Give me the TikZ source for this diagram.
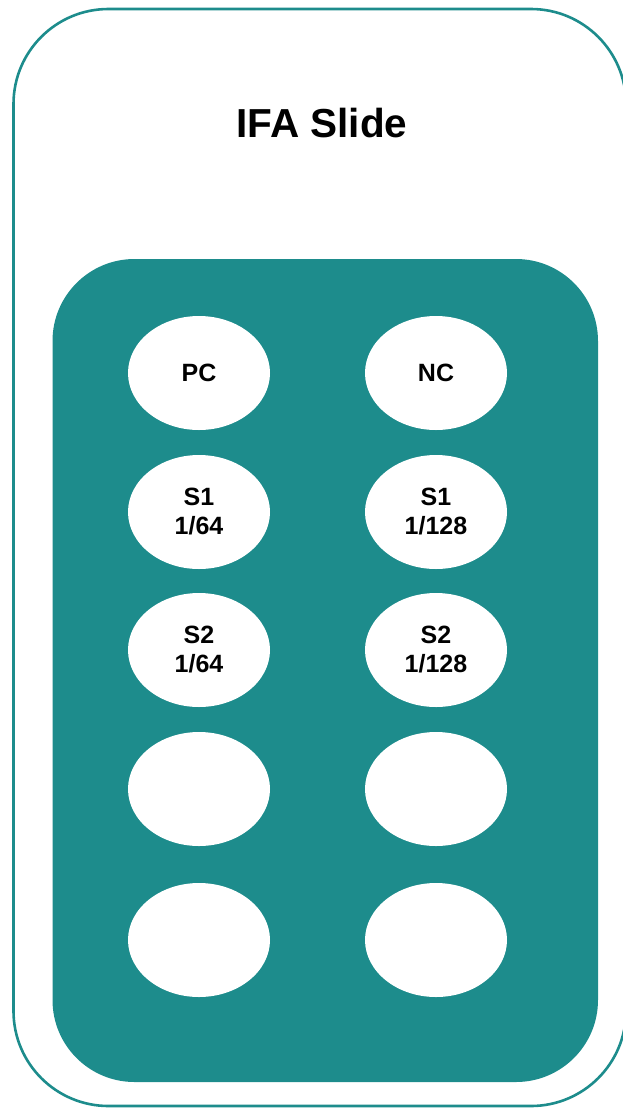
\documentclass[tikz,border=0pt]{standalone}
\usepackage{fontspec}
\setmainfont{Liberation Sans}
\usetikzlibrary{shapes.geometric}
\definecolor{teal1}{HTML}{1D8C8C}
\begin{document}
\begin{tikzpicture}[x=1pt,y=-1pt,
  well/.style={ellipse,fill=white,draw=none,minimum width=142pt,minimum height=114pt,inner sep=0pt,
    align=center,font=\fontsize{25}{29}\selectfont\bfseries}]
\useasboundingbox (0,0) rectangle (623,1109);
\draw[teal1,line width=2.6pt,rounded corners=95pt] (13.5,9) rectangle (626,1106);
\fill[teal1,rounded corners=82pt] (52.5,259) rectangle (598,1082);
\node[font=\fontsize{40.5}{48}\selectfont\bfseries] (title) at (322,123.5) {IFA Slide};
\node[well] (pc) at (199,373) {PC};
\node[well] (nc) at (436,373) {NC};
\node[well] (s1a) at (199,512) {S1\\1/64};
\node[well] (s1b) at (436,512) {S1\\1/128};
\node[well] (s2a) at (199,650) {S2\\1/64};
\node[well] (s2b) at (436,650) {S2\\1/128};
\node[well] (e1) at (199,789) {};
\node[well] (e2) at (436,789) {};
\node[well] (e3) at (199,940) {};
\node[well] (e4) at (436,940) {};
\end{tikzpicture}
\end{document}
